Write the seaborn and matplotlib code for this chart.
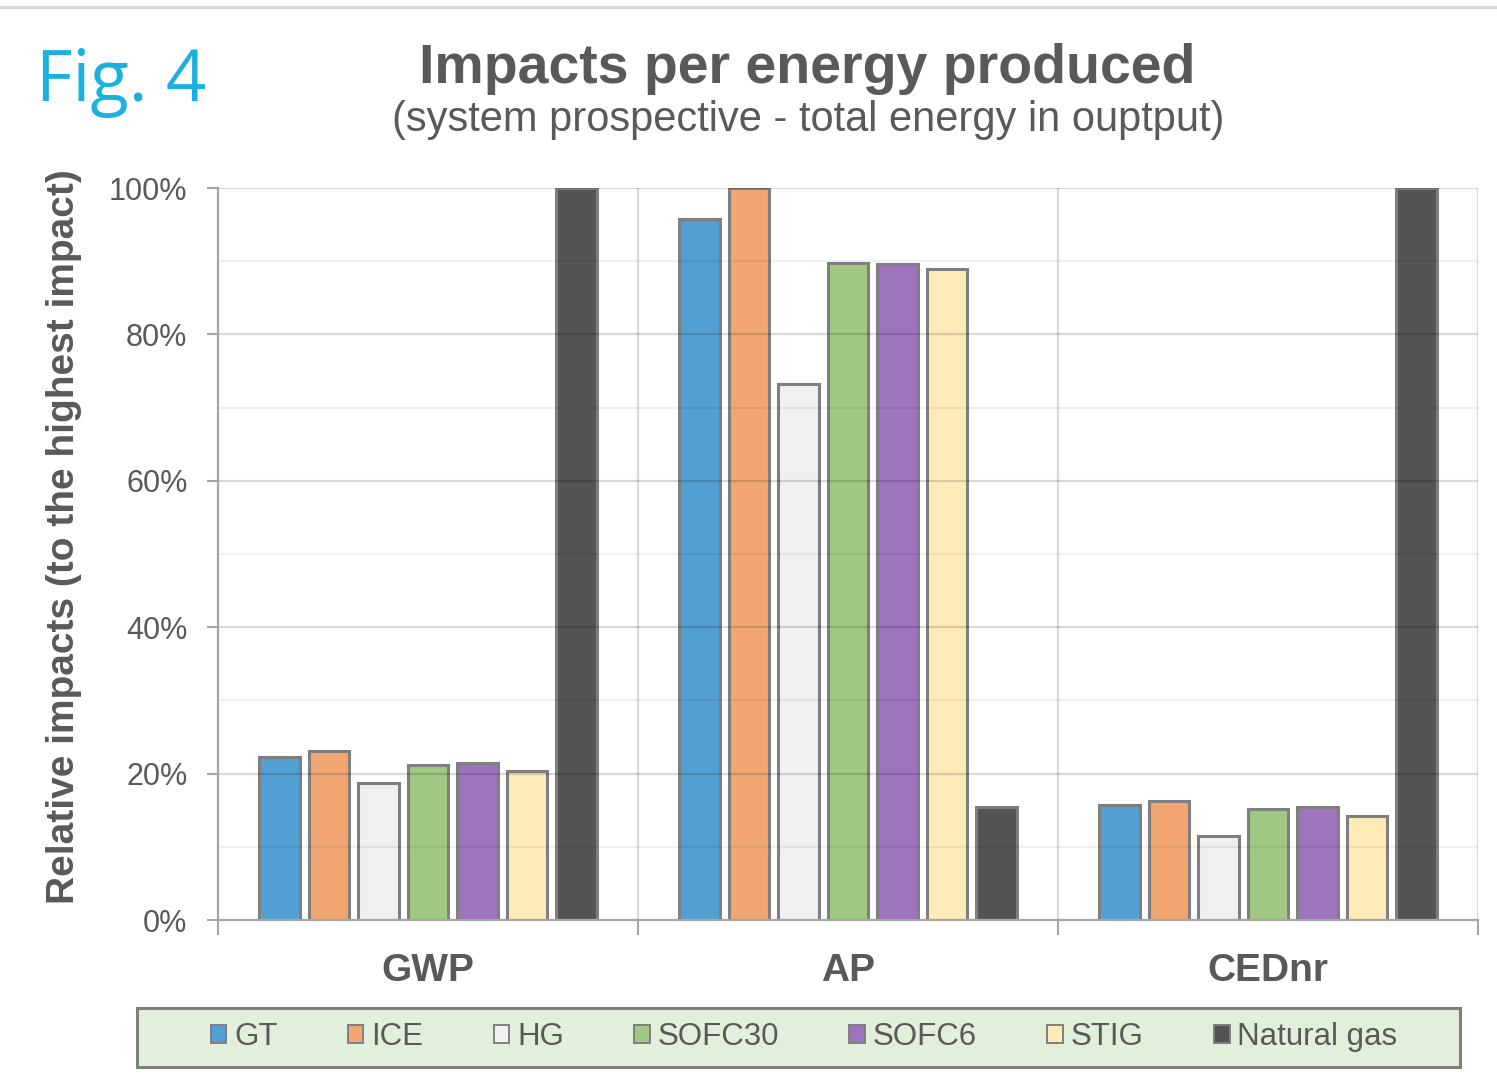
import matplotlib
matplotlib.use("Agg")
import matplotlib.pyplot as plt
import seaborn as sns
import pandas as pd
from matplotlib.patches import Patch, Rectangle
from matplotlib.lines import Line2D
from matplotlib.ticker import FuncFormatter, MultipleLocator

# Impact categories and technologies
categories = ["GWP", "AP", "CEDnr"]
technologies = ["GT", "ICE", "HG", "SOFC30", "SOFC6", "STIG", "Natural gas"]

# Relative impacts (share of the highest impact in each category)
gwp = [0.223, 0.231, 0.187, 0.212, 0.214, 0.204, 1.000]
ap = [0.958, 1.000, 0.732, 0.898, 0.896, 0.889, 0.154]
cednr = [0.157, 0.163, 0.115, 0.152, 0.154, 0.142, 1.000]

colors = ["#529fd4", "#f2a672", "#f0f0f0", "#a0c882", "#9e74bc", "#ffebb8", "#545454"]

rows = []
for cat, vals in zip(categories, [gwp, ap, cednr]):
    for tech, v in zip(technologies, vals):
        rows.append({"category": cat, "technology": tech, "impact": v})
df = pd.DataFrame(rows)

sns.set_theme(style="white")
plt.rcParams["font.family"] = ["Liberation Sans", "DejaVu Sans"]

text_col = "#595959"
edge_col = "#7f7f7f"

fig = plt.figure(figsize=(14.97, 10.79), dpi=100)
ax = fig.add_axes([218 / 1497, 1 - 920 / 1079, 1260 / 1497, 732 / 1079])

sns.barplot(data=df, x="category", y="impact", hue="technology",
            order=categories, hue_order=technologies, palette=colors,
            saturation=1, width=0.825, gap=0.19, edgecolor=edge_col,
            linewidth=2.2, legend=False, ax=ax, zorder=2)

ax.set_xlim(-0.5, 2.5)
ax.set_ylim(0, 1.0)

# Horizontal gridlines, drawn over the bars with transparency
for i in range(1, 11):
    major = i % 2 == 0
    ax.axhline(i / 10, color="black", alpha=0.15 if major else 0.06,
               linewidth=1.6, zorder=3)
# Vertical separators between categories
for x in [0.5, 1.5, 2.5]:
    ax.axvline(x, color="#d9d9d9", linewidth=1.6, zorder=1)

# Y axis
ax.yaxis.set_major_locator(MultipleLocator(0.2))
ax.yaxis.set_major_formatter(FuncFormatter(lambda v, p: f"{v * 100:.0f}%"))
ax.tick_params(axis="y", which="major", left=True, length=8, width=1.5,
               color="#a6a6a6", labelsize=22, labelcolor=text_col, pad=14)

# X axis: ticks at category boundaries, labels at category centres
ax.set_xticks([-0.5, 0.5, 1.5, 2.5])
ax.set_xticklabels(["", "", "", ""])
ax.set_xticks([0, 1, 2], minor=True)
ax.set_xticklabels(categories, minor=True, fontsize=28, fontweight="bold",
                   color=text_col)
ax.tick_params(axis="x", which="major", bottom=True, length=11, width=1.5,
               color="#a6a6a6")
ax.tick_params(axis="x", which="minor", bottom=False, length=0, pad=24)

ax.set_xlabel("")
ax.set_ylabel("")

for side in ["top", "right"]:
    ax.spines[side].set_visible(False)
for side in ["left", "bottom"]:
    ax.spines[side].set_color("#a6a6a6")
    ax.spines[side].set_linewidth(1.6)
    ax.spines[side].set_zorder(4)

# Y axis title
fig.text(64 / 1497, 1 - 537 / 1079, "Relative impacts (to the highest impact)",
         rotation=90, ha="center", va="center", fontsize=28,
         fontweight="bold", color=text_col)

# Titles
fig.text(807 / 1497, 1 - 69 / 1079, "Impacts per energy produced",
         ha="center", va="center", fontsize=40, fontweight="bold",
         color=text_col)
fig.text(808 / 1497, 1 - 120 / 1079,
         "(system prospective - total energy in ouptput)",
         ha="center", va="center", fontsize=30, color=text_col)
fig.text(36 / 1497, 1 - 82 / 1079, "Fig. 4", ha="left", va="center",
         fontsize=51, color="#1ab0e0", family=["Open Sans", "DejaVu Sans"])

# Thin frame line along the top of the figure
fig.add_artist(Line2D([0, 1], [1 - 7 / 1079, 1 - 7 / 1079],
                      transform=fig.transFigure, color="#d9d9d9",
                      linewidth=2.5))

# Legend box and entries
fig.add_artist(Rectangle((137 / 1497, 1 - 1067 / 1079), 1323 / 1497, 59 / 1079,
                         transform=fig.transFigure, facecolor="#e2efda",
                         edgecolor=edge_col, linewidth=2.2, zorder=0))
handles = [Patch(facecolor=c, edgecolor=edge_col, linewidth=1.4)
           for c in colors]
leg = fig.legend(handles, technologies, loc="center",
                 bbox_to_anchor=(804 / 1497, 1 - 1037 / 1079), ncol=7,
                 frameon=False, fontsize=22.5, handlelength=0.5,
                 handleheight=0.5, handletextpad=0.25, columnspacing=2.25)
for t in leg.get_texts():
    t.set_color(text_col)

fig.savefig("out.png", dpi=100)
